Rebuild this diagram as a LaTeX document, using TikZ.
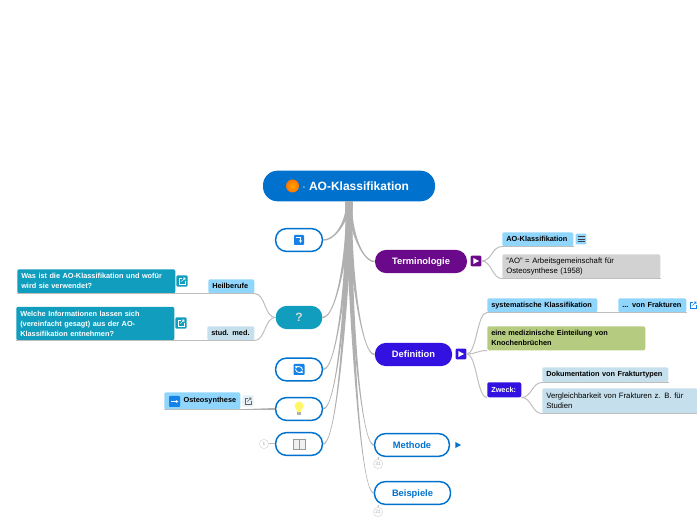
\documentclass[tikz,border=0pt]{standalone}
\usepackage{fontspec}
\setmainfont{Liberation Sans}
\usetikzlibrary{calc,arrows.meta}

\definecolor{rootblue}{RGB}{0,114,206}
\definecolor{termpurple}{RGB}{106,10,138}
\definecolor{defviolet}{RGB}{51,17,224}
\definecolor{quizteal}{RGB}{17,157,190}
\definecolor{tagblue}{RGB}{144,213,251}
\definecolor{tagpale}{RGB}{197,223,236}
\definecolor{notegray}{RGB}{210,210,210}
\definecolor{notegreen}{RGB}{181,204,128}
\definecolor{branchgray}{RGB}{176,176,176}
\definecolor{twiggray}{RGB}{190,190,190}
\definecolor{iconblue}{RGB}{20,130,230}

\tikzset{
	labeltext/.style={font=\fontsize{5.5}{7.4}\selectfont\bfseries},
	plaintext/.style={font=\fontsize{5.8}{7.4}\selectfont},
	boxsize/.style 2 args={minimum width=#1*0.75pt,minimum height=#2*0.75pt,text width=#1*0.75pt-6pt,inner xsep=3pt,inner ysep=0pt,align=left},
	tagbox/.style={labeltext,rounded corners=1.5pt,anchor=north west,text=black},
	mainfilled/.style={draw=none,fill=#1,text=white,font=\fontsize{7}{9}\selectfont\bfseries,rounded corners=8.5pt,minimum height=17.5pt,inner sep=0pt,text height=5.2pt,text depth=0pt},
	mainoutline/.style={draw=rootblue,line width=1.1pt,fill=white,text=rootblue,font=\fontsize{7}{9}\selectfont\bfseries,rounded corners=8pt,minimum height=17pt,inner sep=0pt,text height=5.2pt,text depth=0pt},
	markerbox/.style={fill=#1,rounded corners=1pt,minimum size=8.2pt,inner sep=0pt},
	linkbox/.style={fill=#1,rounded corners=1pt,minimum size=8.6pt,inner sep=0pt},
	countmark/.style={circle,draw=black!15,fill=white,line width=0.4pt,minimum size=7pt,inner sep=0pt,text=black!35,font=\fontsize{3.6}{4}\selectfont},
	twig/.style={draw=twiggray,line width=0.75pt},
	branchfill/.style={fill=branchgray,draw=none},
	iconline/.style={white,line width=0.6pt,-{Latex[length=2pt,width=2.4pt]}},
}

% tapered main branch: target, side (1 right, -1 left)
\newcommand{\branch}[2]{
	\fill[branchfill] ($(root.south)+(-3.5,0)$)
	.. controls ($(root.south)!.3!(root.south |- #1)+(-1.5,0)$) and ($(root.south |- #1)!.4!(#1)+(0,#2*1)$) .. ($(#1)+(0,#2*0.7)$)
	-- ($(#1)+(0,-#2*0.7)$)
	.. controls ($(root.south |- #1)!.4!(#1)+(0,-#2*1)$) and ($(root.south)!.3!(root.south |- #1)+(1.5,0)$) .. ($(root.south)+(3.5,0)$)
	-- cycle;
}
% thin branch with horizontal ends
\newcommand{\twigline}[3]{
	\draw[twig] (#1) .. controls ($(#1)+(#3,0)$) and ($(#2)+(-#3,0)$) .. (#2);
}
% triangle on a marker box
\newcommand{\playmark}[2]{
	\fill[#2] ($(#1)+(-2.6,-3)$) -- ($(#1)+(3,0)$) -- ($(#1)+(-2.6,3)$) -- cycle;
}
% arrow-out-of-box glyph
\newcommand{\linkmark}[2]{
	\draw[#2,line width=0.4pt] ($(#1)+(-0.3,-2.9)$) -- ($(#1)+(-2.9,-2.9)$) -- ($(#1)+(-2.9,2.9)$) -- ($(#1)+(2.9,2.9)$) -- ($(#1)+(2.9,0.3)$);
	\draw[#2,line width=0.4pt] ($(#1)+(-0.6,0.6)$) -- ($(#1)+(3,-3)$) ($(#1)+(0.8,-3)$) -- ($(#1)+(3,-3)$) -- ($(#1)+(3,-0.8)$);
}

\begin{document}
\begin{tikzpicture}[x=0.75pt,y=0.75pt,yscale=-1,xscale=1]

	\useasboundingbox (0,0) rectangle (697,520);

	%%MAIN NODES---------------------------------------------
	\node (root) [mainfilled=rootblue,minimum width=129pt,minimum height=23pt,rounded corners=11pt,font=\fontsize{9}{11}\selectfont\bfseries,text height=6.4pt] at (349,186) {\hspace*{10pt}$\cdot$ AO-Klassifikation};
	\node (jump) [mainoutline,minimum width=35pt] at (299,240) {};
	\node (terminologie) [mainfilled=termpurple,minimum width=69pt] at (421,261.5) {Terminologie};
	\node (frage) [mainfilled=quizteal,minimum width=35pt,text=white!85!black,font=\fontsize{9}{11}\selectfont\bfseries,text height=6.4pt] at (299,317.5) {?};
	\node (repeat) [mainoutline,minimum width=35pt] at (299,369.5) {};
	\node (idee) [mainoutline,minimum width=35pt] at (299,409) {};
	\node (buch) [mainoutline,minimum width=35pt] at (299,444) {};
	\node (definition) [mainfilled=defviolet,minimum width=58pt] at (413.5,354.5) {Definition};
	\node (methode) [mainoutline,minimum width=56pt] at (412,445) {Methode};
	\node (beispiele) [mainoutline,minimum width=57pt] at (412.5,493) {Beispiele};

	%%LEFT BOXES---------------------------------------------
	\node (frageeins) [tagbox,boxsize={158}{24},fill=quizteal,text=white] at (17,269) {Was ist die AO-Klassifikation und wofür\\wird sie verwendet?};
	\node (fragezwei) [tagbox,boxsize={158}{33.5},fill=quizteal,text=white] at (16,306.5) {Welche Informationen lassen sich\\(vereinfacht gesagt) aus der AO-\\Klassifikation entnehmen?};
	\node (heilberufe) [tagbox,boxsize={46}{14},fill=tagblue] at (208,279) {Heilberufe};
	\node (studmed) [tagbox,boxsize={47}{14},fill=tagpale] at (207,326) {stud. med.};
	\node (osteo) [tagbox,boxsize={76}{17},fill=tagblue] at (164,392) {\hspace*{11.5pt}Osteosynthese};

	%%RIGHT BOXES---------------------------------------------
	\node (aoname) [tagbox,boxsize={71}{14},fill=tagblue] at (502,232) {AO-Klassifikation};
	\node (aotext) [tagbox,boxsize={158}{24},fill=notegray,plaintext] at (502,254) {"AO" = Arbeitsgemeinschaft für\\Osteosynthese (1958)};
	\node (system) [tagbox,boxsize={110}{14},fill=tagblue] at (487,298) {systematische Klassifikation};
	\node (fraktur) [tagbox,boxsize={68}{14},fill=tagblue] at (618,298) {... von Frakturen};
	\node (einteilung) [tagbox,boxsize={158}{24},fill=notegreen] at (487,326) {eine medizinische Einteilung von\\Knochenbrüchen};
	\node (zweck) [tagbox,boxsize={34}{15},fill=defviolet,text=white] at (487,382) {Zweck:};
	\node (doku) [tagbox,boxsize={126}{15},fill=tagpale] at (542,367) {Dokumentation von Frakturtypen};
	\node (vergleich) [tagbox,boxsize={155}{25},fill=tagpale,plaintext] at (542,388) {Vergleichbarkeit von Frakturen z. B. für\\Studien};

	%%MARKERS---------------------------------------------
	\node (termplay) [markerbox=termpurple] at (476,261) {};
	\node (defplay) [markerbox=defviolet] at (461,354) {};
	\node (linkeins) [linkbox=quizteal] at (182,281) {};
	\node (linkzwei) [linkbox=quizteal] at (181,323) {};
	\node (linkosteo) [linkbox=tagpale!45] at (248,401) {};
	\node (linkfraktur) [linkbox=white] at (693,305) {};
	\node (notemark) [markerbox=tagblue] at (581,239) {};
	\coordinate (methodeplay) at (458,445);
	\node (zaehlereins) [countmark] at (264,444) {1};
	\node (zaehlerdrei) [countmark] at (378,464) {31};
	\node (zaehlerzwei) [countmark] at (378,512) {21};

	%%BRANCHES---------------------------------------------
	\branch{jump.east}{-1}
	\branch{frage.east}{-1}
	\branch{repeat.east}{-1}
	\branch{idee.east}{-1}
	\branch{buch.east}{-1}
	\branch{terminologie.west}{1}
	\branch{definition.west}{1}
	\branch{methode.west}{1}
	\branch{beispiele.west}{1}

	%%Thin branches
	\draw[twig] (frageeins.south west) -- (heilberufe.south east);
	\draw[twig] (fragezwei.south west) -- (studmed.south east);
	\twigline{heilberufe.south east}{frage.west}{11}
	\twigline{studmed.south east}{frage.west}{11}
	\draw[twig] (osteo.south west) -- (osteo.south east);
	\fill[branchfill] ($(osteo.south east)+(0,-0.3)$) -- ($(idee.west)+(0,-1)$) -- ($(idee.west)+(0,1)$) -- ($(osteo.south east)+(0,0.3)$) -- cycle;
	\draw[twig] (buch.west) -- (zaehlereins.east);
	\draw[twig] (methode.south west) ++(5,0) -- (zaehlerdrei.north);
	\draw[twig] (beispiele.south west) ++(5,0) -- (zaehlerzwei.north);

	\twigline{termplay.east}{aoname.south west}{10}
	\twigline{termplay.east}{aotext.south west}{10}
	\draw[twig] (aoname.south west) -- (aoname.south east);
	\draw[twig] (aotext.south west) -- (aotext.south east);
	\twigline{defplay.east}{system.south west}{10}
	\twigline{defplay.east}{einteilung.south west}{10}
	\twigline{defplay.east}{zweck.south west}{10}
	\draw[twig] (system.south west) -- (fraktur.south east);
	\twigline{zweck.south east}{doku.south west}{10}
	\twigline{zweck.south east}{vergleich.south west}{10}
	\draw[twig] (doku.south west) -- (doku.south east);
	\draw[twig] (vergleich.south west) -- (vergleich.south east);

	%%ICONS---------------------------------------------
	%orange ball
	\shade[inner color=orange!70!yellow,outer color=orange!90!red] (292.5,186) circle (6.5);
	%jump icon
	\fill[iconblue,rounded corners=0.6pt] (294,235) rectangle (304,245);
	\draw[iconline] (295.5,237) -- (300.5,237) -- (300.5,243);
	%repeat icon
	\fill[iconblue,rounded corners=0.6pt] (293.5,364) rectangle (304.5,375);
	\draw[iconline] (295.5,369) arc (180:20:3.5);
	\draw[iconline] (302.5,370) arc (0:-160:3.5);
	%bulb icon
	\fill[yellow!60!white] (299,406) circle (4.5);
	\fill[yellow!60!white] (296,408) -- (302,408) -- (300.8,412) -- (297.2,412) -- cycle;
	\fill[black!30] (297.3,412) rectangle (300.7,415);
	%book icon
	\draw[black!40,fill=black!6,line width=0.4pt] (293,439) rectangle (299,449) (299,439) rectangle (305,449);
	%osteo arrow icon
	\fill[iconblue,rounded corners=0.6pt] (169,396) rectangle (180,407);
	\draw[iconline] (171,401.5) -- (178.5,401.5);

	%%Marker glyphs
	\playmark{termplay}{white}
	\playmark{defplay}{white}
	\playmark{methodeplay}{rootblue}
	\linkmark{linkeins}{white}
	\linkmark{linkzwei}{white}
	\linkmark{linkosteo}{black!60}
	\linkmark{linkfraktur}{iconblue}
	\draw[black!75,line width=0.4pt] ($(notemark)+(-3.5,-2.5)$) -- ($(notemark)+(3.5,-2.5)$) ($(notemark)+(-3.5,0)$) -- ($(notemark)+(3.5,0)$) ($(notemark)+(-3.5,2.5)$) -- ($(notemark)+(3.5,2.5)$);

\end{tikzpicture}
\end{document}
